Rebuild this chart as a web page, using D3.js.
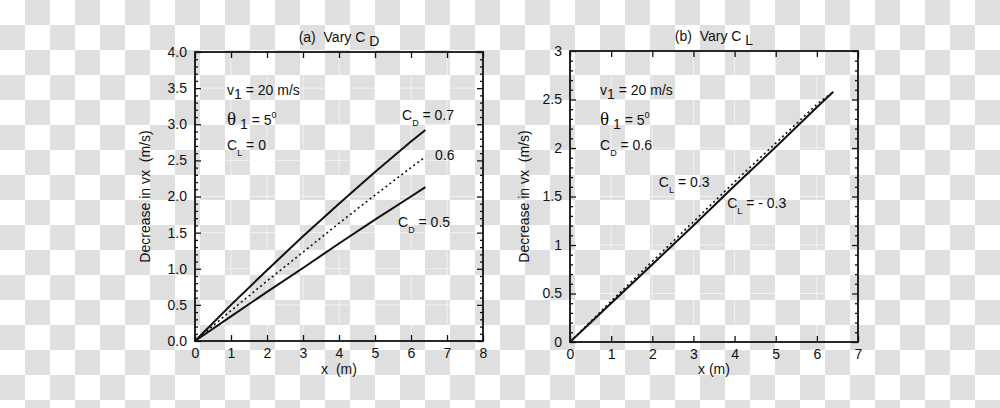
<!DOCTYPE html>
<html>
<head>
<meta charset="utf-8">
<script src="https://cdn.jsdelivr.net/npm/d3@7"></script>
<style>
  body { margin: 0; background: #fff; }
  svg { display: block; font-family: "Liberation Sans", Arial, sans-serif; }
</style>
</head>
<body>
<svg id="chart" width="1000" height="408"></svg>
<script>
// ---- data ----
const xsA = [0, 1, 2, 3, 4, 5, 6, 6.4];
const cd07 = [0, 0.50, 0.98, 1.45, 1.90, 2.34, 2.76, 2.92];
const cd06 = [0, 0.42, 0.83, 1.23, 1.63, 2.02, 2.40, 2.55];
const cd05 = [0, 0.34, 0.68, 1.01, 1.35, 1.68, 2.00, 2.13];

const xsB = [0, 1, 2, 3, 4, 5, 6, 6.4];
const clPos = [0, 0.42, 0.83, 1.24, 1.65, 2.05, 2.45, 2.58];
const clNeg = [0, 0.40, 0.80, 1.20, 1.61, 2.01, 2.42, 2.58];

const xTicksA = [0, 1, 2, 3, 4, 5, 6, 7, 8];
const yTicksA = [0, 0.5, 1, 1.5, 2, 2.5, 3, 3.5, 4];
const xTicksB = [0, 1, 2, 3, 4, 5, 6, 7];
const yTicksB = [0, 0.5, 1, 1.5, 2, 2.5, 3];

const svg = d3.select("#chart");
const FS = 14;

// transparent-png checkerboard behind everything
const defs = svg.append("defs");
const pat = defs.append("pattern")
    .attr("id", "checker")
    .attr("width", 50).attr("height", 50)
    .attr("patternUnits", "userSpaceOnUse");
pat.append("rect").attr("width", 50).attr("height", 50).attr("fill", "#ffffff");
pat.append("rect").attr("x", 25).attr("y", 0).attr("width", 25).attr("height", 25).attr("fill", "#dfdfdf");
pat.append("rect").attr("x", 0).attr("y", 25).attr("width", 25).attr("height", 25).attr("fill", "#dfdfdf");
svg.append("rect").attr("width", 1000).attr("height", 408).attr("fill", "url(#checker)");

// text with sub/superscripts: parts = [{t, sub|sup|low, size}]
function richText(g, x, y, parts, opts) {
    const t = g.append("text")
        .attr("x", x).attr("y", y)
        .attr("font-size", opts && opts.size || FS)
        .attr("fill", "#111")
        .attr("xml:space", "preserve")
        .attr("text-anchor", opts && opts.anchor || "start");
    let shift = 0;
    parts.forEach(p => {
        const s = t.append("tspan").text(p.t);
        let dy = 0;
        if (p.sub) dy = 6;
        if (p.low) dy = 4;
        if (p.sup) dy = -7;
        s.attr("dy", dy - shift);
        shift = dy;
        if (p.size) s.attr("font-size", p.size);
        if (p.family) s.attr("font-family", p.family);
    });
    return t;
}

function drawPanel(cfg) {
    const g = svg.append("g");
    const x = d3.scaleLinear().domain(cfg.xDomain).range([cfg.left, cfg.right]);
    const y = d3.scaleLinear().domain(cfg.yDomain).range([cfg.bottom, cfg.top]);

    // faint grid
    g.append("g").selectAll("line")
        .data(cfg.xTicks.slice(1, -1))
        .enter().append("line")
        .attr("x1", d => x(d)).attr("x2", d => x(d))
        .attr("y1", cfg.top).attr("y2", cfg.bottom)
        .attr("stroke", "#ffffff").attr("stroke-opacity", 0.6).attr("stroke-width", 1);
    g.append("g").selectAll("line")
        .data(cfg.yTicks.slice(1, -1))
        .enter().append("line")
        .attr("y1", d => y(d)).attr("y2", d => y(d))
        .attr("x1", cfg.left).attr("x2", cfg.right)
        .attr("stroke", "#ffffff").attr("stroke-opacity", 0.6).attr("stroke-width", 1);

    // axes with inward ticks on all four sides
    const minorY = d3.range(cfg.yDomain[0], cfg.yDomain[1] + 1e-9, 0.1)
        .filter(v => Math.abs(v * 2 - Math.round(v * 2)) > 1e-6);

    function ax(axisFn, scale, ticks, fmt, len) {
        return axisFn(scale).tickValues(ticks).tickSize(len).tickPadding(6).tickFormat(fmt);
    }
    const none = () => "";

    const bottomAx = g.append("g").attr("transform", `translate(0,${cfg.bottom})`)
        .call(ax(d3.axisBottom, x, cfg.xTicks, d3.format("d"), -6));
    g.append("g").attr("transform", `translate(0,${cfg.top})`)
        .call(ax(d3.axisTop, x, cfg.xTicks, none, -6));
    const leftAx = g.append("g").attr("transform", `translate(${cfg.left},0)`)
        .call(ax(d3.axisLeft, y, cfg.yTicks, cfg.yFormat, -6));
    g.append("g").attr("transform", `translate(${cfg.right},0)`)
        .call(ax(d3.axisRight, y, cfg.yTicks, none, -6));
    g.append("g").attr("transform", `translate(${cfg.left},0)`)
        .call(d3.axisLeft(y).tickValues(minorY).tickSize(-3).tickFormat(none));
    g.append("g").attr("transform", `translate(${cfg.right},0)`)
        .call(d3.axisRight(y).tickValues(minorY).tickSize(-3).tickFormat(none));

    g.selectAll(".domain").remove();
    g.selectAll(".tick line").attr("stroke", "#111").attr("stroke-width", 1.3);
    g.selectAll(".tick text")
        .attr("font-size", FS)
        .attr("font-family", "Liberation Sans, Arial, sans-serif")
        .attr("fill", "#111");
    leftAx.selectAll(".tick text").attr("x", -8);
    bottomAx.selectAll(".tick text").attr("y", 7);

    // frame
    g.append("rect")
        .attr("x", cfg.left).attr("y", cfg.top)
        .attr("width", cfg.right - cfg.left).attr("height", cfg.bottom - cfg.top)
        .attr("fill", "none").attr("stroke", "#111").attr("stroke-width", 1.8);

    // curves
    const line = d3.line().x(d => x(d[0])).y(d => y(d[1]));
    cfg.series.forEach(s => {
        g.append("path")
            .datum(cfg.xs.map((v, i) => [v, s.values[i]]))
            .attr("d", line)
            .attr("fill", "none")
            .attr("stroke", "#111")
            .attr("stroke-width", s.dotted ? 1.6 : 2)
            .attr("stroke-dasharray", s.dotted ? "2,3" : null);
    });

    // titles
    richText(g, (cfg.left + cfg.right) / 2, cfg.top - 10, cfg.title, { anchor: "middle" });
    g.append("text")
        .attr("x", (cfg.left + cfg.right) / 2).attr("y", 374)
        .attr("text-anchor", "middle").attr("font-size", FS).attr("fill", "#111")
        .attr("xml:space", "preserve")
        .text(cfg.xLabel);
    g.append("text")
        .attr("transform", `translate(${cfg.yLabelX},${(cfg.top + cfg.bottom) / 2}) rotate(-90)`)
        .attr("text-anchor", "middle").attr("font-size", FS).attr("fill", "#111")
        .attr("xml:space", "preserve")
        .text("Decrease in vx  (m/s)");

    cfg.notes.forEach(n => richText(g, x(n.at[0]), y(n.at[1]), n.parts));
}

const subSize = 9;

drawPanel({
    left: 195, right: 483, top: 52, bottom: 341,
    xDomain: [0, 8], yDomain: [0, 4],
    xTicks: xTicksA, yTicks: yTicksA, yFormat: d3.format(".1f"),
    xs: xsA,
    series: [
        { values: cd07 },
        { values: cd06, dotted: true },
        { values: cd05 }
    ],
    title: [{ t: "(a)  Vary C " }, { t: "D", low: true }],
    xLabel: "x  (m)",
    yLabelX: 150,
    notes: [
        { at: [0.89, 3.40], parts: [{ t: "v" }, { t: "1", low: true }, { t: " = 20 m/s" }] },
        { at: [0.89, 2.99], parts: [{ t: "θ", size: 19, family: "Liberation Serif, serif" }, { t: " 1", low: true }, { t: " = 5" }, { t: "0", sup: true, size: subSize }] },
        { at: [0.89, 2.64], parts: [{ t: "C" }, { t: "L", sub: true, size: subSize }, { t: " = 0" }] },
        { at: [5.75, 3.06], parts: [{ t: "C" }, { t: "D", sub: true, size: subSize }, { t: " = 0.7" }] },
        { at: [6.67, 2.50], parts: [{ t: "0.6" }] },
        { at: [5.64, 1.58], parts: [{ t: "C" }, { t: "D", sub: true, size: subSize }, { t: " = 0.5" }] }
    ]
});

drawPanel({
    left: 570, right: 858, top: 51, bottom: 342,
    xDomain: [0, 7], yDomain: [0, 3],
    xTicks: xTicksB, yTicks: yTicksB, yFormat: d3.format("~g"),
    xs: xsB,
    series: [
        { values: clPos, dotted: true },
        { values: clNeg }
    ],
    title: [{ t: "(b)  Vary C " }, { t: "L", low: true }],
    xLabel: "x (m)",
    yLabelX: 529,
    notes: [
        { at: [0.73, 2.55], parts: [{ t: "v" }, { t: "1", low: true }, { t: " = 20 m/s" }] },
        { at: [0.73, 2.24], parts: [{ t: "θ", size: 19, family: "Liberation Serif, serif" }, { t: " 1", low: true }, { t: " = 5" }, { t: "0", sup: true, size: subSize }] },
        { at: [0.73, 1.98], parts: [{ t: "C" }, { t: "D", sub: true, size: subSize }, { t: " = 0.6" }] },
        { at: [2.16, 1.60], parts: [{ t: "C" }, { t: "L", sub: true, size: subSize }, { t: " = 0.3" }] },
        { at: [3.82, 1.38], parts: [{ t: "C" }, { t: "L", sub: true, size: subSize }, { t: " = - 0.3" }] }
    ]
});
</script>
</body>
</html>
